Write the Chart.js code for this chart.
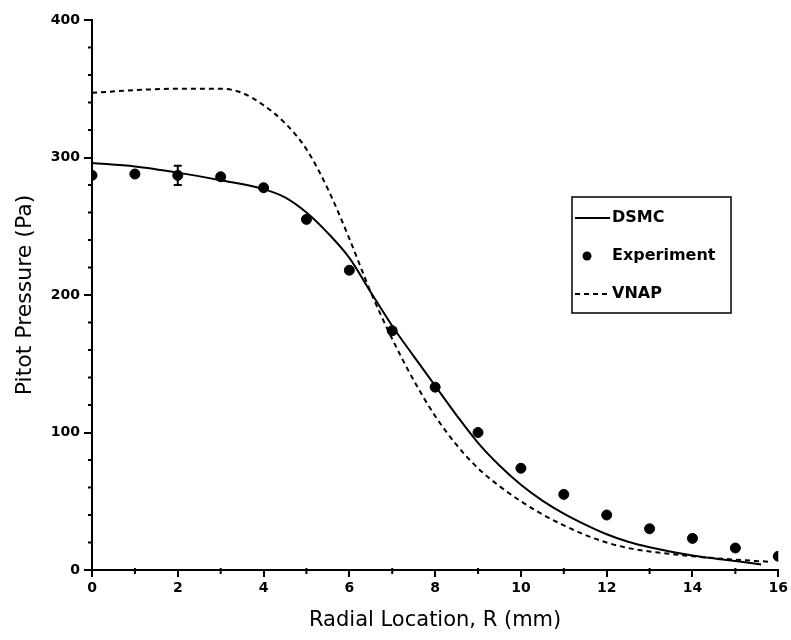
<!DOCTYPE html>
<html><head><meta charset="utf-8">
<script src="https://cdn.jsdelivr.net/npm/chart.js@4.4.1/dist/chart.umd.min.js"></script>
<style>html,body{margin:0;padding:0;background:#fff;}#wrap{width:791px;height:640px;}</style>
</head><body><div id="wrap"><canvas id="c" width="791" height="640"></canvas></div>
<script>
// Experiment (Pa) at radial location (mm)
const expR   = [0, 1, 2, 3, 4, 5, 6, 7, 8, 9, 10, 11, 12, 13, 14, 15, 16];
const expP   = [287, 288, 287, 286, 278, 255, 218, 174, 133, 100, 74, 55, 40, 30, 23, 16, 10];
const expErr = [0, 0, 7, 0, 0, 0, 0, 0, 0, 0, 0, 0, 0, 0, 0, 0, 0];
// DSMC curve
const dsmcR = [0, 1, 2, 3, 4, 4.5, 5, 5.5, 6, 6.5, 7, 7.5, 8, 8.5, 9, 9.5, 10, 10.5, 11, 11.5, 12, 12.5, 13, 14, 15, 15.6];
const dsmcP = [296, 293.5, 289, 283.5, 277, 271, 260, 245, 227, 202, 177.5, 155.5, 134, 112.5, 92.5, 76, 62, 50.5, 41, 33, 26, 20.5, 16.5, 10.5, 6.5, 4];
// VNAP curve
const vnapR = [0, 1, 2, 3, 3.5, 4, 4.5, 5, 5.5, 6, 6.5, 7, 7.5, 8, 8.5, 9, 9.5, 10, 10.5, 11, 11.5, 12, 12.5, 13, 14, 15, 15.8];
const vnapP = [347, 349, 350, 350, 347, 338, 325, 306, 277, 241, 202, 168, 138, 112, 91, 74, 61, 50, 40.5, 32.5, 25.5, 20, 16, 13.5, 10, 7.5, 6];
// Axis ticks
const xMajor = [0, 2, 4, 6, 8, 10, 12, 14, 16];
const xMinor = [1, 3, 5, 7, 9, 11, 13, 15];
const yMajor = [0, 100, 200, 300, 400];
const yMinor = [20, 40, 60, 80, 120, 140, 160, 180, 220, 240, 260, 280, 320, 340, 360, 380];
const legendItems = ['DSMC', 'Experiment', 'VNAP'];

const toXY = (xs, ys) => xs.map((x, i) => ({x: x, y: ys[i]}));

const extras = {
  id: 'extras',
  afterDatasetsDraw(chart) {
    const ctx = chart.ctx, xs = chart.scales.x, ys = chart.scales.y, a = chart.chartArea;
    ctx.save();
    ctx.strokeStyle = '#000';
    ctx.lineWidth = 2;
    // minor ticks
    xMinor.forEach(v => { const px = xs.getPixelForValue(v); ctx.beginPath(); ctx.moveTo(px, a.bottom - 2); ctx.lineTo(px, a.bottom + 4); ctx.stroke(); });
    yMinor.forEach(v => { const py = ys.getPixelForValue(v); ctx.beginPath(); ctx.moveTo(a.left - 4, py); ctx.lineTo(a.left + 1, py); ctx.stroke(); });
    // error bars
    expErr.forEach((e, i) => {
      if (!e) return;
      const px = xs.getPixelForValue(expR[i]);
      const y1 = ys.getPixelForValue(expP[i] + e), y2 = ys.getPixelForValue(expP[i] - e);
      ctx.beginPath(); ctx.moveTo(px, y1); ctx.lineTo(px, y2);
      ctx.moveTo(px - 4, y1); ctx.lineTo(px + 4, y1);
      ctx.moveTo(px - 4, y2); ctx.lineTo(px + 4, y2); ctx.stroke();
    });
    // legend box
    const bx = 572, by = 197, bw = 159, bh = 116;
    ctx.lineWidth = 1.5;
    ctx.strokeRect(bx, by, bw, bh);
    ctx.font = 'bold 16px "DejaVu Sans"';
    ctx.fillStyle = '#000';
    ctx.textBaseline = 'middle';
    const rows = [218, 256, 294];
    ctx.lineWidth = 2;
    ctx.beginPath(); ctx.moveTo(575, rows[0]); ctx.lineTo(610, rows[0]); ctx.stroke();
    ctx.beginPath(); ctx.arc(587, rows[1], 4.5, 0, Math.PI * 2); ctx.fill();
    ctx.setLineDash([5, 4]);
    ctx.beginPath(); ctx.moveTo(575, rows[2]); ctx.lineTo(610, rows[2]); ctx.stroke();
    ctx.setLineDash([]);
    legendItems.forEach((t, i) => ctx.fillText(t, 612, rows[i]));
    ctx.restore();
  }
};

new Chart(document.getElementById('c'), {
  type: 'scatter',
  data: {
    datasets: [
      {label: 'DSMC', type: 'line', data: toXY(dsmcR, dsmcP), borderColor: '#000', borderWidth: 2, pointRadius: 0, cubicInterpolationMode: 'monotone', fill: false},
      {label: 'VNAP', type: 'line', data: toXY(vnapR, vnapP), borderColor: '#000', borderWidth: 2, borderDash: [5, 4], pointRadius: 0, cubicInterpolationMode: 'monotone', fill: false},
      {label: 'Experiment', data: toXY(expR, expP), backgroundColor: '#000', borderColor: '#000', pointRadius: 5, pointHoverRadius: 5}
    ]
  },
  options: {
    responsive: false,
    animation: false,
    layout: {padding: {top: 20, right: 12, left: 0, bottom: 0}},
    plugins: {legend: {display: false}, tooltip: {enabled: false}},
    scales: {
      x: {
        type: 'linear', min: 0, max: 16,
        afterBuildTicks: s => { s.ticks = xMajor.map(v => ({value: v})); },
        afterFit: s => { s.height = 70; },
        ticks: {color: '#000', font: {family: 'DejaVu Sans', weight: 'bold', size: 14}, padding: 3, maxRotation: 0},
        grid: {display: true, drawOnChartArea: false, drawTicks: true, tickLength: 7, color: '#000', lineWidth: 2},
        border: {display: true, color: '#000', width: 2},
        title: {display: true, text: 'Radial Location, R (mm)', color: '#000', font: {family: 'DejaVu Sans', size: 21}, padding: {top: 4, bottom: 7}}
      },
      y: {
        type: 'linear', min: 0, max: 400,
        afterBuildTicks: s => { s.ticks = yMajor.map(v => ({value: v})); },
        afterFit: s => { s.width = 92; },
        ticks: {color: '#000', font: {family: 'DejaVu Sans', weight: 'bold', size: 14}, padding: 4},
        grid: {display: true, drawOnChartArea: false, drawTicks: true, tickLength: 8, color: '#000', lineWidth: 2},
        border: {display: true, color: '#000', width: 2},
        title: {display: true, text: 'Pitot Pressure (Pa)', color: '#000', font: {family: 'DejaVu Sans', size: 22}, padding: {top: 12, bottom: 0}}
      }
    }
  },
  plugins: [extras]
});
</script></body></html>
